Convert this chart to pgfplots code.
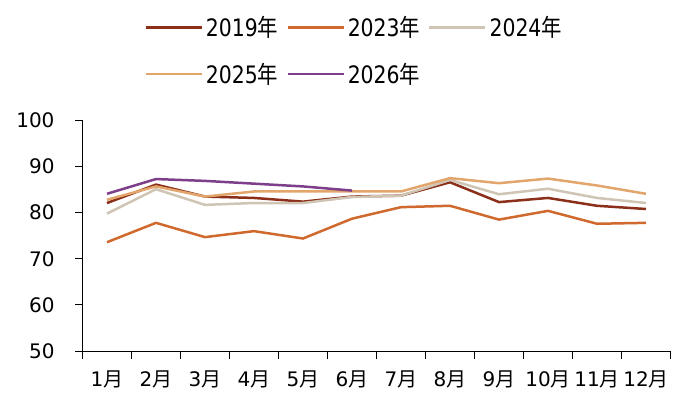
\documentclass[border=0pt]{standalone}
\usepackage{fontspec}
\setmainfont{DejaVu Sans}
\newfontfamily\cjk{Noto Sans CJK SC}
\newfontfamily\legfont[FakeStretch=0.85]{DejaVu Sans}
\newfontfamily\legcjk[FakeStretch=0.85]{Noto Sans CJK SC}
\usepackage{pgfplots}
\pgfplotsset{compat=1.18}
\definecolor{c2019}{HTML}{8B2F1A}
\definecolor{c2023}{HTML}{D0692D}
\definecolor{c2024}{HTML}{CFC5B4}
\definecolor{c2025}{HTML}{E2A66C}
\definecolor{c2026}{HTML}{7E3F8A}
\newcommand{\m}{{\cjk 月}}
\newcommand{\y}{{\legcjk 年}}
\begin{document}
\begin{tikzpicture}
\path[use as bounding box] (0,0) rectangle (686bp,406bp);
\begin{axis}[
  at={(82.5bp,55bp)}, anchor=south west,
  scale only axis, width=588bp, height=230.5bp,
  xmin=0.5, xmax=12.5, ymin=50, ymax=100,
  axis lines*=left,
  axis line style={line width=1bp, black},
  xtick={0.5,1.5,...,12.5}, xticklabels={},
  extra x ticks={1,2,...,12},
  extra x tick labels={1\m,2\m,3\m,4\m,5\m,6\m,7\m,8\m,9\m,10\m,11\m,12\m},
  extra x tick style={major tick length=0pt},
  ytick={50,60,...,100},
  tick align=outside,
  major tick length=7.5bp,
  tick style={line width=1bp, black},
  /pgf/number format/assume math mode=true,
  tick label style={font=\fontsize{20bp}{24bp}\selectfont},
  yticklabel style={xshift=-17bp},
  xticklabel style={yshift=-16bp},
  legend columns=3,
  legend style={at={(rel axis cs:0.105,1.465)}, anchor=north west, draw=none,
    fill=none, inner sep=0pt, row sep=19bp,
    font=\legfont\fontsize{24bp}{28bp}\selectfont,
    nodes={inner sep=3bp},
    /tikz/every even column/.append style={column sep=5bp}},
  legend cell align=left,
  legend image code/.code={\draw[#1, line width=2.5bp] (0bp,0bp) -- (56bp,0bp);},
  every axis plot/.append style={line width=2.5bp, mark=none},
]
\addplot[c2019] coordinates {(1,82.1)(2,86.1)(3,83.5)(4,83.2)(5,82.4)(6,83.5)(7,83.7)(8,86.6)(9,82.3)(10,83.2)(11,81.5)(12,80.8)};
\addlegendentry{2019\y}
\addplot[c2023] coordinates {(1,73.6)(2,77.8)(3,74.7)(4,76.0)(5,74.4)(6,78.7)(7,81.2)(8,81.5)(9,78.5)(10,80.4)(11,77.6)(12,77.8)};
\addlegendentry{2023\y}
\addplot[c2024] coordinates {(1,79.8)(2,85.1)(3,81.7)(4,82.1)(5,82.1)(6,83.4)(7,83.7)(8,87.1)(9,84.0)(10,85.2)(11,83.2)(12,82.1)};
\addlegendentry{2024\y}
\addplot[c2025] coordinates {(1,82.8)(2,85.7)(3,83.5)(4,84.6)(5,84.6)(6,84.6)(7,84.6)(8,87.5)(9,86.4)(10,87.4)(11,85.9)(12,84.1)};
\addlegendentry{2025\y}
\addplot[c2026] coordinates {(1,84.1)(2,87.3)(3,86.9)(4,86.3)(5,85.7)(6,84.8)};
\addlegendentry{2026\y}
\end{axis}
\end{tikzpicture}
\end{document}
